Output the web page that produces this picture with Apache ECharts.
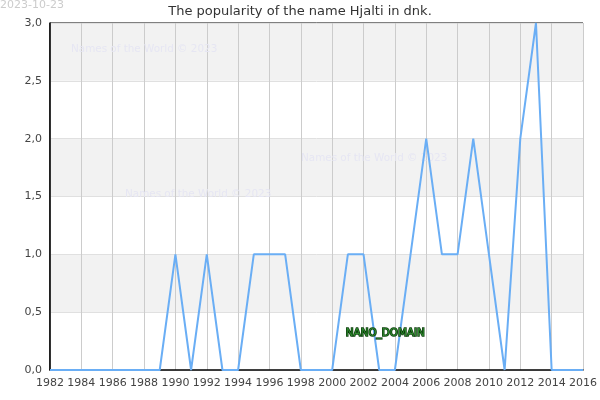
<!DOCTYPE html>
<html>
<head>
<meta charset="utf-8">
<script src="https://cdn.jsdelivr.net/npm/echarts@6/dist/echarts.min.js"></script>
<style>
  html, body { margin: 0; padding: 0; background: #fff; }
  #main { width: 600px; height: 400px; }
</style>
</head>
<body>
<div id="main"></div>
<script>
// years and counts for the name Hjalti
var years = [1982, 1983, 1984, 1985, 1986, 1987, 1988, 1989, 1990, 1991, 1992, 1993, 1994, 1995, 1996, 1997, 1998, 1999,
             2000, 2001, 2002, 2003, 2004, 2005, 2006, 2007, 2008, 2009, 2010, 2011, 2012, 2013, 2014, 2015, 2016];
var counts = [0, 0, 0, 0, 0, 0, 0, 0, 1, 0, 1, 0, 0, 1, 1, 1, 0, 0,
              0, 1, 1, 0, 0, 1, 2, 1, 1, 2, 1, 0, 2, 3, 0, 0, 0];
var titleText = 'The popularity of the name Hjalti in dnk.';
var dateText = '2023-10-23';
var watermark = 'Names of the World © 2023';

var myChart = echarts.init(document.getElementById('main'));
var font = 'DejaVu Sans';

var option = {
    animation: false,
    textStyle: { fontFamily: font },
    title: {
        text: titleText,
        left: 'center',
        top: 0,
        textStyle: { fontSize: 13, fontWeight: 'normal', color: '#333', fontFamily: font }
    },
    graphic: [
        { type: 'text', left: 0, top: 0, style: { text: dateText, fill: '#cccccc', font: '11px DejaVu Sans' } },
        { type: 'text', left: 71, top: 44, z: 1, style: { text: watermark, fill: '#e6e6f3', font: '10.4px DejaVu Sans' } },
        { type: 'text', left: 301, top: 153, z: 1, style: { text: watermark, fill: '#e6e6f3', font: '10.4px DejaVu Sans' } },
        { type: 'text', left: 125, top: 189, z: 1, style: { text: watermark, fill: '#e6e6f3', font: '10.4px DejaVu Sans' } },
        { type: 'text', left: 345, top: 328, z: 100, style: { text: 'NANO_DOMAIN', fill: '#2e8b2e', stroke: '#0a3a0a', lineWidth: 1.5, font: '10.4px DejaVu Sans' } }
    ],
    grid: { left: 50, right: 15, top: 23, bottom: 30, show: true, borderColor: '#000', borderWidth: 1, backgroundColor: 'transparent' },
    xAxis: {
        type: 'value',
        min: 1982,
        max: 2016,
        interval: 2,
        axisLine: { show: true, lineStyle: { color: '#000', width: 1.5 } },
        axisTick: { show: false },
        axisLabel: { color: '#444', fontSize: 11, margin: 8, formatter: function (v) { return String(v); } },
        splitLine: { show: true, lineStyle: { color: '#cccccc', width: 1 } }
    },
    yAxis: {
        type: 'value',
        min: 0,
        max: 3,
        interval: 0.5,
        axisLine: { show: true, lineStyle: { color: '#000', width: 1.5 } },
        axisTick: { show: false },
        axisLabel: { color: '#444', fontSize: 11, margin: 8, formatter: function (v) { return v.toFixed(1).replace('.', ','); } },
        splitLine: { show: true, lineStyle: { color: '#e0e0e0', width: 1 } },
        splitArea: { show: true, areaStyle: { color: ['#ffffff', '#f2f2f2'] } }
    },
    series: [{
        type: 'line',
        data: years.map(function (y, i) { return [y, counts[i]]; }),
        showSymbol: false,
        lineStyle: { color: '#6aaef5', width: 2 },
        itemStyle: { color: '#6aaef5' }
    }]
};
myChart.setOption(option);
</script>
</body>
</html>
